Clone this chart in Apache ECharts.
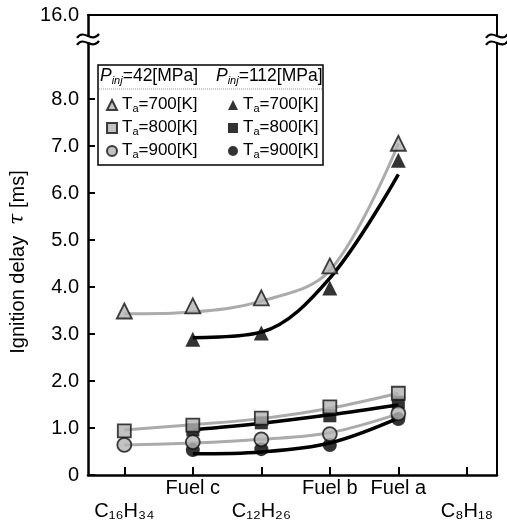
<!DOCTYPE html>
<html><head><meta charset="utf-8">
<script src="https://cdn.jsdelivr.net/npm/echarts@6/dist/echarts.min.js"></script>
<style>html,body{margin:0;padding:0;background:#fff}#c{width:507px;height:531px}</style>
</head><body><div id="c"></div>
<script>
// ---- data ----
const categories = ['C₁₆H₃₄', 'Fuel c', 'C₁₂H₂₆', 'Fuel b', 'Fuel a', 'C₈H₁₈'];
const lowerRow = [true, false, true, false, false, true];
const yTickValues = [0, 1, 2, 3, 4, 5, 6, 7, 8];
const yTickLabels = ['0', '1.0', '2.0', '3.0', '4.0', '5.0', '6.0', '7.0', '8.0'];
const yBreakTop = 9.79;        // axis top (after the break) represents 16.0
const yTopLabel = '16.0';
const yBreakAt = 9.27;         // where the break mark sits

// measured points (ms), one per category, null = not measured
const p42_700  = [3.49, 3.60, 3.77, 4.45, 7.06, null];
const p42_800  = [0.94, 1.06, 1.21, 1.45, 1.74, null];
const p42_900  = [0.64, 0.70, 0.76, 0.87, 1.31, null];
const p112_700 = [null, 2.89, 3.02, 3.98, 6.70, null];
const p112_800 = [null, 0.96, 1.11, 1.26, 1.55, null];
const p112_900 = [null, 0.53, 0.55, 0.64, 1.19, null];

// fitted curves
const f42_700  = [3.43, 3.47, 3.70, 4.35, 7.05, null];
const f42_800  = [0.96, 1.07, 1.20, 1.42, 1.74, null];
const f42_900  = [0.64, 0.68, 0.76, 0.90, 1.30, null];
const f112_700 = [null, 2.92, 3.04, 4.19, 6.40, null];
const f112_800 = [null, 0.96, 1.10, 1.28, 1.49, null];
const f112_900 = [null, 0.45, 0.49, 0.68, 1.21, null];

// ---- chart ----
const FONT = 'Liberation Sans, Arial, sans-serif';
const chart = echarts.init(document.getElementById('c'), null, {renderer: 'canvas'});
const toPairs = arr => arr.map((v, i) => v == null ? null : [i, v]).filter(d => d);
const catIdx = categories.map((_, i) => i);

function xLabel(v) {
  const i = Math.round(v);
  return lowerRow[i] ? '{e| }\n{m|' + categories[i] + '}' : '{m|' + categories[i] + '}';
}

const openStyle = {color: '#b3b3b3', borderColor: '#111', borderWidth: 1.8};
const fillStyle = {color: '#000'};

function pts(name, data, symbol, size, style, z) {
  return {name, type: 'scatter', data: toPairs(data), symbol, symbolSize: size,
    itemStyle: style, z, silent: true};
}
function fit(data, color, width) {
  return {type: 'line', data: toPairs(data), smooth: 0.35, showSymbol: false, symbol: 'none',
    lineStyle: {color, width}, z: 2, silent: true};
}

const legendRich = {
  n: {fontSize: 17, lineHeight: 18, verticalAlign: 'top', color: '#000', fontFamily: FONT},
  sub: {fontSize: 11, lineHeight: 11, padding: [10, 0, 0, 0], verticalAlign: 'bottom', color: '#000', fontFamily: FONT}
};
const legendFmt = name => '{n|T}{sub|a}{n|=' + name.slice(1) + '[K]}';

const option = {
  animation: false,
  backgroundColor: '#fff',
  grid: {left: 87, right: 10, top: 15, bottom: 56},
  xAxis: [{
    type: 'value', min: -0.53, max: 5.44,
    axisLine: {onZero: false, lineStyle: {color: '#000', width: 2.5}},
    axisTick: {customValues: catIdx, inside: true, length: 8, lineStyle: {color: '#000', width: 2}},
    axisLabel: {customValues: catIdx, formatter: xLabel, margin: 3, color: '#000',
      rich: {
        m: {fontSize: 20, lineHeight: 20, color: '#000', fontFamily: FONT},
        e: {fontSize: 10, lineHeight: 23}
      }},
    splitLine: {show: false}
  }, {
    type: 'value', position: 'top', min: -0.53, max: 5.44,
    axisLine: {show: true, onZero: false, lineStyle: {color: '#000', width: 2}},
    axisTick: {show: false}, axisLabel: {show: false}, splitLine: {show: false}
  }],
  yAxis: [{
    type: 'value', min: 0, max: yBreakTop,
    axisLine: {show: true, onZero: false, lineStyle: {color: '#000', width: 2.5}},
    axisTick: {show: true, customValues: yTickValues, inside: true, length: 7, lineStyle: {color: '#000', width: 2}},
    axisLabel: {customValues: yTickValues.concat([yBreakTop]),
      formatter: v => v > 8.5 ? yTopLabel : yTickLabels[Math.round(v)],
      fontSize: 20, color: '#000', fontFamily: FONT, margin: 9},
    splitLine: {show: false},
    name: 'Ignition delay  {t|τ} [ms]', nameLocation: 'middle', nameGap: 60, nameRotate: 90,
    nameTextStyle: {fontSize: 20, color: '#000', fontFamily: FONT, padding: [0, 34, 0, 0],
      rich: {t: {fontSize: 20, fontStyle: 'italic', fontFamily: 'DejaVu Serif', color: '#000'}}}
  }, {
    type: 'value', position: 'right', min: 0, max: yBreakTop,
    axisLine: {show: true, onZero: false, lineStyle: {color: '#000', width: 2}},
    axisTick: {show: false}, axisLabel: {show: false}, splitLine: {show: false}
  }],
  legend: [{
    left: 101, top: 88, orient: 'vertical', itemWidth: 10, itemHeight: 10, itemGap: 2,
    selectedMode: false,
    data: [{name: 'a700', icon: 'triangle'}, {name: 'a800', icon: 'rect'}, {name: 'a900', icon: 'circle'}],
    formatter: legendFmt, textStyle: {rich: legendRich}
  }, {
    left: 223, top: 88, orient: 'vertical', itemWidth: 10, itemHeight: 10, itemGap: 2,
    selectedMode: false,
    data: [{name: 'b700', icon: 'triangle'}, {name: 'b800', icon: 'rect'}, {name: 'b900', icon: 'circle'}],
    formatter: legendFmt, textStyle: {rich: legendRich}
  }],
  series: [
    fit(f42_700, '#ababab', 3), fit(f42_800, '#ababab', 3), fit(f42_900, '#ababab', 3),
    fit(f112_700, '#000', 3.5), fit(f112_800, '#000', 3.5), fit(f112_900, '#000', 3.5),
    pts('b700', p112_700, 'triangle', 15, fillStyle, 5),
    pts('b800', p112_800, 'rect', 13, fillStyle, 5),
    pts('b900', p112_900, 'circle', 14, fillStyle, 5),
    pts('a700', p42_700, 'triangle', 15, openStyle, 6),
    pts('a800', p42_800, 'rect', 13, openStyle, 6),
    pts('a900', p42_900, 'circle', 14, openStyle, 6)
  ]
};
chart.setOption(option);

// axis break marks and legend frame
const xl = chart.convertToPixel({xAxisIndex: 0}, -0.53);
const xr = chart.convertToPixel({xAxisIndex: 0}, 5.44);
const yb = chart.convertToPixel({yAxisIndex: 0}, yBreakAt);
function breakMark(x, y) {
  const w = (dy) => ({type: 'bezierCurve', shape: {x1: x - 11, y1: y + dy + 2, cpx1: x - 4, cpy1: y + dy - 8,
    cpx2: x + 4, cpy2: y + dy + 8, x2: x + 11, y2: y + dy - 2}, style: {stroke: '#000', lineWidth: 2.2, fill: null}, z: 100});
  return [
    {type: 'rect', shape: {x: x - 3, y: y - 3, width: 6, height: 6}, style: {fill: '#fff'}, z: 99},
    w(-3.5), w(3.5)
  ];
}
const headRich = {
  p: {fontSize: 17.5, fontStyle: 'italic', fontFamily: FONT, lineHeight: 19, verticalAlign: 'top', fill: '#000'},
  sub: {fontSize: 11, fontStyle: 'italic', fontFamily: FONT, lineHeight: 11, padding: [10, 0, 0, 0], verticalAlign: 'bottom', fill: '#000'},
  n: {fontSize: 17.5, fontFamily: FONT, lineHeight: 19, verticalAlign: 'top', fill: '#000'}
};
chart.setOption({
  graphic: [
    ...breakMark(xl, yb), ...breakMark(xr, yb),
    {type: 'rect', shape: {x: 98, y: 65, width: 225, height: 100}, style: {fill: '#fff', stroke: '#000', lineWidth: 1.5}, z: 0},
    {type: 'line', shape: {x1: 99, y1: 89, x2: 322, y2: 89}, style: {stroke: '#999', lineWidth: 1, lineDash: [1, 1]}, z: 1},
    {type: 'text', x: 100, y: 67, style: {text: '{p|P}{sub|inj}{n|=42[MPa]}', rich: headRich}, z: 1},
    {type: 'text', x: 216, y: 67, style: {text: '{p|P}{sub|inj}{n|=112[MPa]}', rich: headRich}, z: 1}
  ]
});
</script></body></html>
